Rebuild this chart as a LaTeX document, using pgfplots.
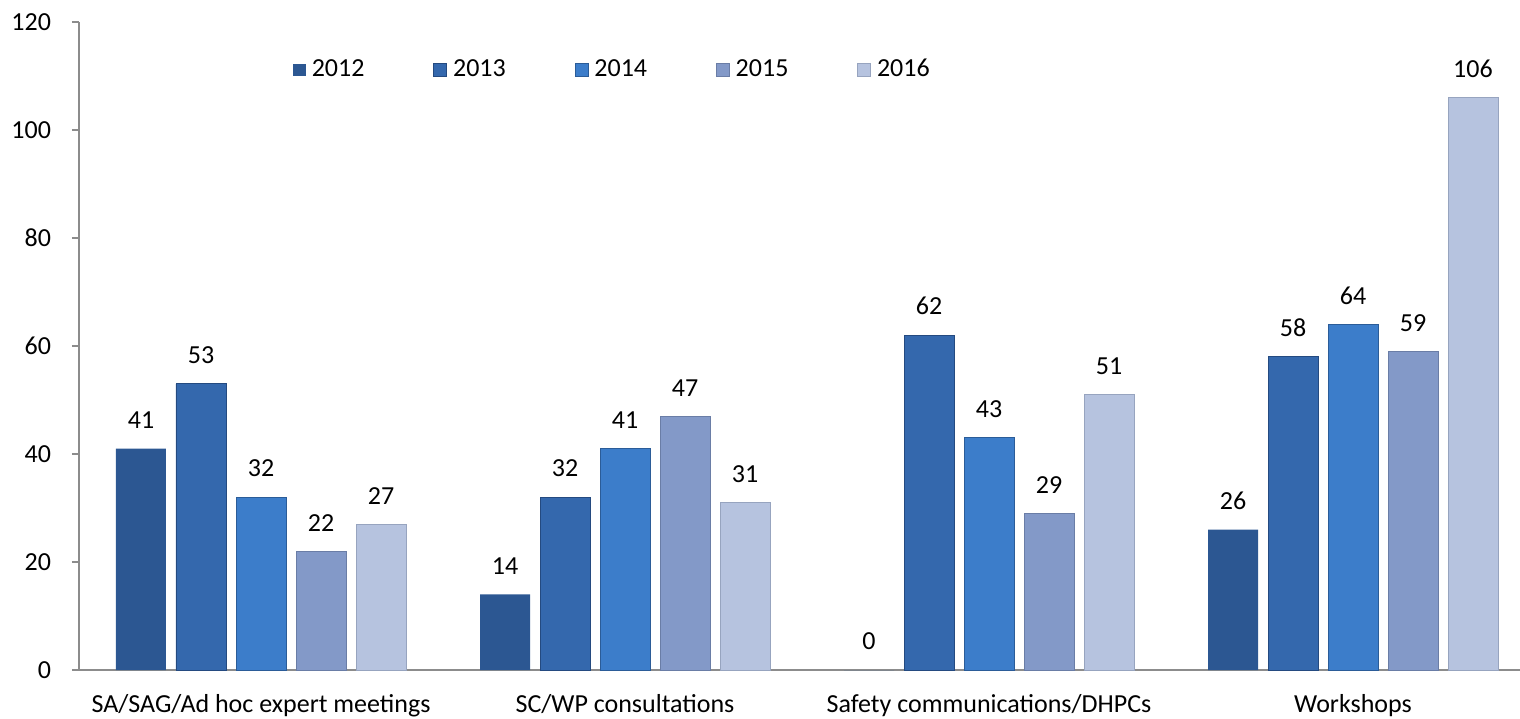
\documentclass[border=0pt]{standalone}
\usepackage{pgfplots}
\pgfplotsset{compat=1.18}
\usepackage{fontspec}
\setmainfont{Carlito}
\definecolor{cA}{HTML}{2C5792}\definecolor{cAe}{HTML}{1F3D68}
\definecolor{cB}{HTML}{3468AD}\definecolor{cBe}{HTML}{244A80}
\definecolor{cC}{HTML}{3C7DCA}\definecolor{cCe}{HTML}{2B5C98}
\definecolor{cD}{HTML}{8399C8}\definecolor{cDe}{HTML}{6A7DA6}
\definecolor{cE}{HTML}{B6C3DF}\definecolor{cEe}{HTML}{97A4BF}
\definecolor{axgray}{HTML}{8C8C8C}
\begin{document}
\fontsize{13}{15.6}\selectfont
\begin{tikzpicture}
\useasboundingbox (0,0) rectangle (760pt,359pt);
\begin{axis}[
  at={(39.5pt,24pt)}, anchor=south west,
  scale only axis, width=728pt, height=324pt,
  ybar=5pt, bar width=25pt,
  xmin=-0.5, xmax=3.5, ymin=0, ymax=120,
  ytick={0,20,...,120},
  xtick={0,1,2,3},
  xticklabels={SA/SAG/Ad hoc expert meetings, SC/WP consultations, Safety communications/DHPCs, Workshops},
  extra x ticks={-0.5,0.5,1.5,2.5},
  extra x tick labels={},
  extra x tick style={major tick length=5pt, tick style={draw=axgray, line width=0.6pt}},
  x tick style={draw=none},
  y tick style={draw=axgray, line width=0.6pt},
  tick align=outside, major tick length=3.5pt,
  axis x line*=bottom, axis y line*=left,
  axis line style={draw=axgray, line width=0.6pt, -},
  tick label style={font=\fontsize{13}{15.6}\selectfont},
  /pgf/number format/assume math mode=true,
  xticklabel style={yshift=-4pt},
  yticklabel style={xshift=-6pt},
  nodes near coords,
  every node near coord/.append style={font=\fontsize{13}{15.6}\selectfont, yshift=5.5pt, text=black},
  legend columns=5,
  legend style={draw=none, fill=none, at={(0.367,0.926)}, anchor=center,
    font=\fontsize{13}{15.6}\selectfont,
    /tikz/every even column/.append style={column sep=32.5pt},
    /tikz/every odd column/.append style={column sep=1pt}},
  legend image code/.code={\path[#1] (0pt,-3.2pt) rectangle (6.4pt,3.2pt);},
  clip=false,
]
\addplot[fill=cA, draw=none] coordinates {(0,41) (1,14) (2,0) (3,26)};
\addplot[fill=cB, draw=cBe, line width=0.4pt] coordinates {(0,53) (1,32) (2,62) (3,58)};
\addplot[fill=cC, draw=cCe, line width=0.4pt] coordinates {(0,32) (1,41) (2,43) (3,64)};
\addplot[fill=cD, draw=cDe, line width=0.4pt] coordinates {(0,22) (1,47) (2,29) (3,59)};
\addplot[fill=cE, draw=cEe, line width=0.4pt] coordinates {(0,27) (1,31) (2,51) (3,106)};
\legend{2012,2013,2014,2015,2016}
\end{axis}
\end{tikzpicture}
\end{document}
